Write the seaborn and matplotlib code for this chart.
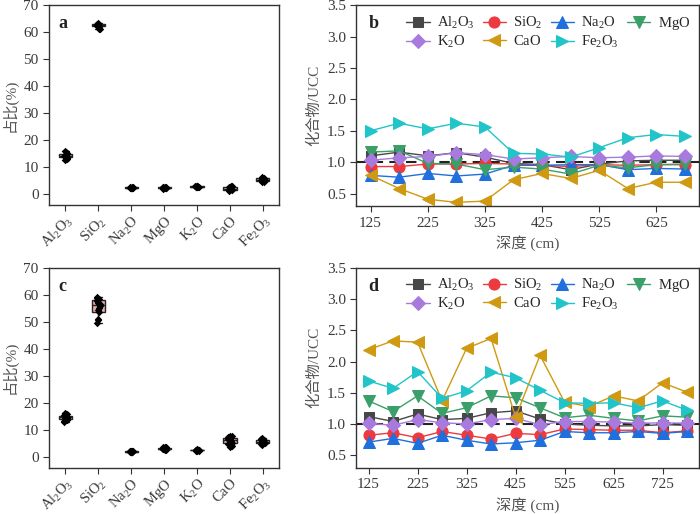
import numpy as np
import pandas as pd
import matplotlib
matplotlib.use("Agg")
import matplotlib.pyplot as plt
from matplotlib.ticker import MultipleLocator
import seaborn as sns

# ── Data ──────────────────────────────────────────────────────────
oxides = ["Al2O3", "SiO2", "Na2O", "MgO", "K2O", "CaO", "Fe2O3"]
oxide_labels = [r"$\mathrm{Al_2O_3}$", r"$\mathrm{SiO_2}$", r"$\mathrm{Na_2O}$",
                r"$\mathrm{MgO}$", r"$\mathrm{K_2O}$", r"$\mathrm{CaO}$",
                r"$\mathrm{Fe_2O_3}$"]

# panel a : content (%) of 12 samples
a_al2o3 = [12.8, 13.2, 13.5, 13.7, 13.9, 14.0, 14.1, 14.4, 14.8, 15.2, 15.6, 16.0]
a_sio2  = [61.0, 61.3, 61.8, 62.2, 62.5, 62.6, 62.7, 62.8, 62.9, 63.0, 63.1, 63.3]
a_na2o  = [2.2, 2.3, 2.3, 2.4, 2.4, 2.4, 2.5, 2.5, 2.5, 2.6, 2.6, 2.7]
a_mgo   = [2.1, 2.2, 2.3, 2.3, 2.4, 2.4, 2.5, 2.5, 2.6, 2.6, 2.7, 2.8]
a_k2o   = [2.6, 2.7, 2.7, 2.8, 2.8, 2.8, 2.9, 2.9, 2.9, 3.0, 3.0, 3.1]
a_cao   = [1.2, 1.4, 1.5, 1.6, 1.8, 2.0, 2.2, 2.3, 2.5, 2.7, 2.9, 3.1]
a_fe2o3 = [4.4, 4.7, 4.9, 5.1, 5.2, 5.3, 5.4, 5.6, 5.8, 6.0, 6.1, 6.3]

# panel c : content (%) of 14 samples
c_al2o3 = [13.0, 13.3, 13.6, 13.9, 14.1, 14.3, 14.5, 14.7, 14.9, 15.1, 15.4, 15.7, 16.0, 16.3]
c_sio2  = [49.5, 50.5, 51.0, 53.5, 54.2, 55.0, 56.0, 56.5, 57.0, 57.6, 58.2, 58.6, 59.0, 59.3]
c_na2o  = [1.7, 1.8, 1.8, 1.9, 1.9, 2.0, 2.0, 2.0, 2.1, 2.1, 2.2, 2.2, 2.3, 2.3]
c_mgo   = [2.6, 2.7, 2.8, 2.9, 3.0, 3.0, 3.1, 3.1, 3.2, 3.3, 3.4, 3.5, 3.5, 3.6]
c_k2o   = [2.2, 2.3, 2.3, 2.4, 2.4, 2.5, 2.5, 2.5, 2.6, 2.6, 2.6, 2.7, 2.7, 2.8]
c_cao   = [3.8, 4.2, 4.6, 4.9, 5.2, 5.6, 6.0, 6.2, 6.5, 6.8, 7.0, 7.3, 7.6, 7.9]
c_fe2o3 = [4.6, 4.8, 5.0, 5.2, 5.4, 5.5, 5.6, 5.8, 5.9, 6.1, 6.3, 6.5, 6.7, 6.9]

# panel b : compound / UCC vs depth
b_depth = [125, 175, 225, 275, 325, 375, 425, 475, 525, 575, 625, 675]
b_al2o3 = [1.10, 1.16, 1.10, 1.15, 1.08, 0.98, 0.96, 0.88, 0.97, 1.02, 1.03, 1.03]
b_sio2  = [0.93, 0.93, 0.97, 0.97, 0.98, 0.97, 0.95, 0.93, 0.96, 0.95, 0.96, 0.96]
b_na2o  = [0.79, 0.76, 0.82, 0.78, 0.81, 0.95, 0.95, 0.96, 0.96, 0.88, 0.90, 0.89]
b_mgo   = [1.16, 1.18, 0.98, 0.97, 0.88, 0.92, 0.89, 0.81, 0.95, 0.91, 0.96, 0.97]
b_k2o   = [1.03, 1.07, 1.09, 1.15, 1.12, 1.05, 1.07, 1.09, 1.07, 1.08, 1.10, 1.09]
b_cao   = [0.79, 0.58, 0.41, 0.36, 0.38, 0.72, 0.82, 0.74, 0.87, 0.58, 0.68, 0.68]
b_fe2o3 = [1.50, 1.62, 1.53, 1.62, 1.56, 1.14, 1.13, 1.08, 1.23, 1.39, 1.44, 1.41]

# panel d : compound / UCC vs depth
d_depth = [125, 175, 225, 275, 325, 375, 425, 475, 525, 575, 625, 675, 725, 775]
d_al2o3 = [1.12, 1.04, 1.16, 1.07, 1.09, 1.18, 1.21, 1.08, 1.00, 0.98, 0.97, 0.97, 0.99, 0.98]
d_sio2  = [0.82, 0.86, 0.78, 0.88, 0.82, 0.76, 0.85, 0.83, 0.92, 0.91, 0.90, 0.90, 0.86, 0.89]
d_na2o  = [0.71, 0.77, 0.69, 0.82, 0.74, 0.68, 0.70, 0.74, 0.88, 0.86, 0.86, 0.88, 0.85, 0.88]
d_mgo   = [1.37, 1.20, 1.45, 1.17, 1.26, 1.45, 1.42, 1.26, 1.10, 1.14, 1.09, 1.05, 1.13, 1.11]
d_k2o   = [1.01, 0.98, 1.07, 1.02, 1.00, 1.07, 1.09, 0.99, 1.04, 1.04, 1.03, 1.01, 1.02, 1.01]
d_cao   = [2.19, 2.33, 2.31, 1.37, 2.21, 2.37, 1.11, 2.10, 1.35, 1.28, 1.45, 1.37, 1.66, 1.51]
d_fe2o3 = [1.69, 1.57, 1.84, 1.41, 1.53, 1.83, 1.74, 1.54, 1.34, 1.33, 1.34, 1.26, 1.37, 1.22]

line_colors  = ["#474747", "#ec3a3f", "#1f6fde", "#3b9f69", "#a97ade", "#cf9a12", "#21c4c9"]
line_markers = ["s", "o", "^", "v", "D", "<", ">"]
line_msizes  = [7, 8, 8, 8, 7, 8, 8]

# ── Style ─────────────────────────────────────────────────────────
sns.set_style("ticks")
plt.rcParams['font.family'] = ['Liberation Serif', 'Noto Sans CJK SC']
plt.rcParams['mathtext.fontset'] = 'custom'
plt.rcParams['mathtext.rm'] = 'Liberation Serif'
plt.rcParams['mathtext.it'] = 'Liberation Serif:italic'
plt.rcParams['axes.edgecolor'] = '#333333'
plt.rcParams['axes.linewidth'] = 1.0
plt.rcParams['xtick.color'] = '#333333'
plt.rcParams['ytick.color'] = '#333333'
plt.rcParams['xtick.labelcolor'] = '#3a3a3a'
plt.rcParams['ytick.labelcolor'] = '#3a3a3a'

fig = plt.figure(figsize=(7.0, 5.14), dpi=100)
ax_a = fig.add_axes([0.070, 0.601, 0.329, 0.389])
ax_b = fig.add_axes([0.509, 0.599, 0.490, 0.391])
ax_c = fig.add_axes([0.070, 0.090, 0.329, 0.389])
ax_d = fig.add_axes([0.509, 0.090, 0.490, 0.389])

label_kw = dict(fontsize=11, color='#555555')


def box_panel(ax, cols, letter):
    df = pd.DataFrame({"oxide": np.repeat(oxides, [len(v) for v in cols]),
                       "value": np.concatenate(cols)})
    sns.boxplot(data=df, x="oxide", y="value", order=oxides, ax=ax,
                width=0.4, color="#f4a3a3", linewidth=1.0, fliersize=0,
                boxprops=dict(edgecolor="#222222"),
                whiskerprops=dict(color="#222222"),
                capprops=dict(color="#222222"),
                medianprops=dict(color="#222222"))
    sns.stripplot(data=df, x="oxide", y="value", order=oxides, ax=ax,
                  color="black", marker="D", size=3.8, jitter=0.06)
    ax.set_ylim(-4, 70)
    ax.set_xlim(-0.5, 6.5)
    ax.yaxis.set_major_locator(MultipleLocator(10))
    ax.set_xticks(range(len(oxides)))
    ax.set_xticklabels(oxide_labels, rotation=45, ha='right',
                       rotation_mode='anchor', fontsize=10.5)
    ax.tick_params(axis='y', labelsize=11, length=4)
    ax.tick_params(axis='x', length=4, pad=2)
    ax.set_xlabel("")
    ax.set_ylabel("占比(%)", **label_kw)
    ax.text(0.04, 0.95, letter, transform=ax.transAxes, fontsize=13,
            fontweight='bold', va='top', ha='left', color='#222222')
    for s in ax.spines.values():
        s.set_visible(True)


def line_panel(ax, depth, series, letter, xmax):
    for vals, name, col, mk, ms in zip(series, oxide_labels, line_colors,
                                       line_markers, line_msizes):
        sns.lineplot(x=depth, y=vals, ax=ax, color=col, marker=mk,
                     markersize=ms, markeredgecolor=col, linewidth=1.0,
                     label=name)
    ax.axhline(1.0, color='#222222', linestyle=(0, (5, 3)), linewidth=1.5,
               zorder=1)
    ax.set_xlim(100, xmax)
    ax.set_ylim(0.3, 3.5)
    ax.set_xticks(np.arange(125, xmax, 100))
    ax.yaxis.set_major_locator(MultipleLocator(0.5))
    ax.yaxis.set_major_formatter(plt.FormatStrFormatter('%.1f'))
    ax.tick_params(labelsize=11, length=4)
    ax.set_xlabel("深度 (cm)", **label_kw)
    ax.set_ylabel("化合物/UCC", **label_kw)
    ax.text(0.035, 0.95, letter, transform=ax.transAxes, fontsize=13,
            fontweight='bold', va='top', ha='left', color='#222222')
    # legend filled column-wise, so reorder to read row-wise
    handles, labels = ax.get_legend_handles_labels()
    order = [0, 4, 1, 5, 2, 6, 3]
    ax.legend([handles[i] for i in order], [labels[i] for i in order],
              loc='upper right', ncol=4, frameon=False, fontsize=10.5,
              handlelength=1.6, columnspacing=0.55, handletextpad=0.5,
              labelspacing=0.2, borderaxespad=0.25)
    for s in ax.spines.values():
        s.set_visible(True)


box_panel(ax_a, [a_al2o3, a_sio2, a_na2o, a_mgo, a_k2o, a_cao, a_fe2o3], "a")
box_panel(ax_c, [c_al2o3, c_sio2, c_na2o, c_mgo, c_k2o, c_cao, c_fe2o3], "c")
line_panel(ax_b, b_depth, [b_al2o3, b_sio2, b_na2o, b_mgo, b_k2o, b_cao, b_fe2o3], "b", 700)
line_panel(ax_d, d_depth, [d_al2o3, d_sio2, d_na2o, d_mgo, d_k2o, d_cao, d_fe2o3], "d", 800)

fig.savefig("out.png", dpi=100)
